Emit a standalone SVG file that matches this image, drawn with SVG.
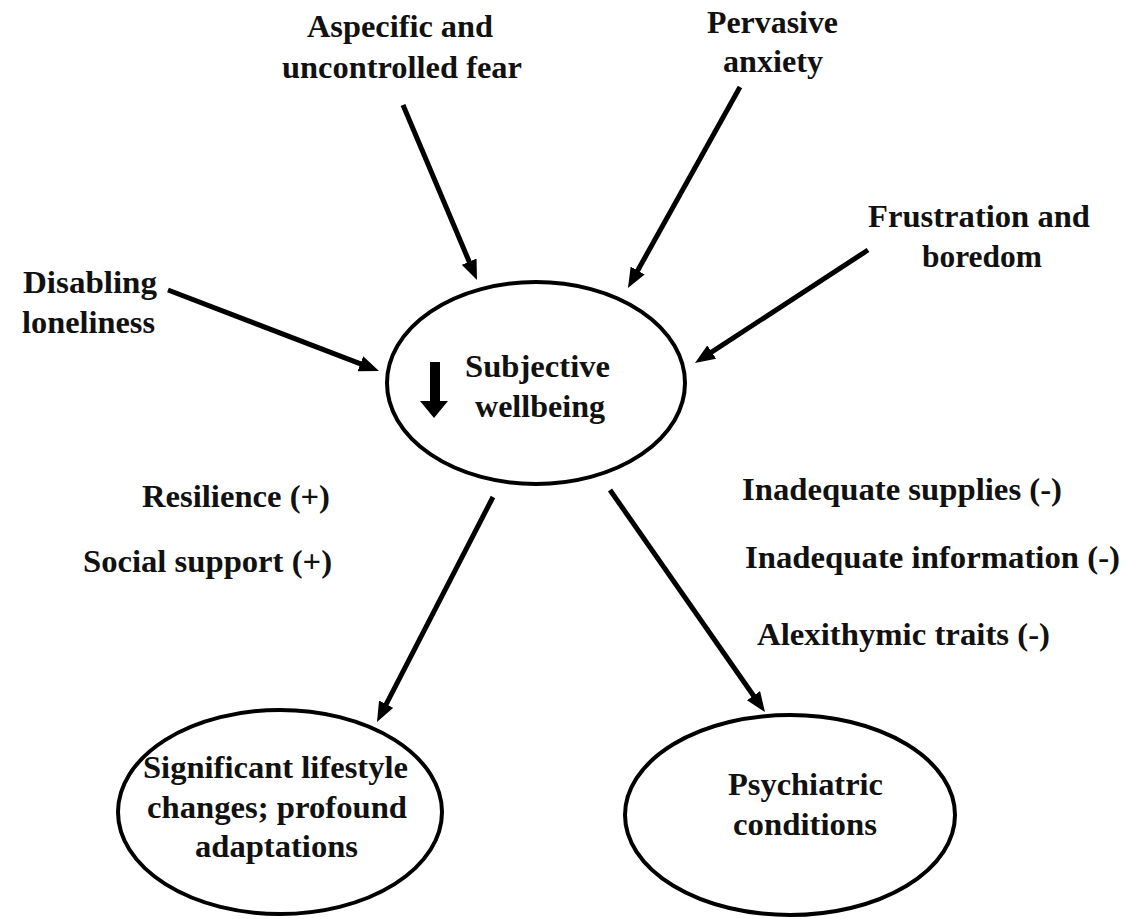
<svg xmlns="http://www.w3.org/2000/svg" width="1126" height="919" viewBox="0 0 1126 919">
<style>
.t{font-family:"Liberation Serif","Times New Roman",serif;font-weight:bold;font-size:31px;fill:#111}
.e{fill:#fff;stroke:#000;stroke-width:4}
.c{stroke:#000;stroke-width:5;fill:none;marker-end:url(#ah)}
</style>
<defs>
<marker id="ah" viewBox="0 0 20 16" refX="8" refY="8" markerWidth="20" markerHeight="16" markerUnits="userSpaceOnUse" orient="auto">
<path d="M0,0 L20,8 L0,16 z" fill="#000"/>
</marker>
</defs>
<rect width="1126" height="919" fill="#fff"/>
<g id="connectors">
<line class="c" x1="403" y1="105" x2="472.3" y2="269"/>
<line class="c" x1="740" y1="87" x2="633.8" y2="277.5"/>
<line class="c" x1="168" y1="290" x2="367.8" y2="366.7"/>
<line class="c" x1="868" y1="250" x2="705" y2="356.4"/>
<line class="c" x1="493" y1="497" x2="382.5" y2="711.3"/>
<line class="c" x1="610" y1="490" x2="758.1" y2="702.2"/>
</g>
<g id="node-wellbeing">
<ellipse class="e" cx="536" cy="383" rx="149" ry="101"/>
<rect x="430" y="362" width="10" height="40" fill="#000"/>
<path d="M420,401 L448,401 L434,418 z" fill="#000"/>
<text class="t" x="465" y="377" textLength="145" lengthAdjust="spacingAndGlyphs">Subjective</text>
<text class="t" x="475" y="417" textLength="130" lengthAdjust="spacingAndGlyphs">wellbeing</text>
</g>
<g id="node-lifestyle">
<ellipse class="e" cx="280" cy="812" rx="162" ry="102"/>
<text class="t" x="143" y="778" textLength="265" lengthAdjust="spacingAndGlyphs">Significant lifestyle</text>
<text class="t" x="147" y="818" textLength="260" lengthAdjust="spacingAndGlyphs">changes; profound</text>
<text class="t" x="195" y="857" textLength="163" lengthAdjust="spacingAndGlyphs">adaptations</text>
</g>
<g id="node-psychiatric">
<ellipse class="e" cx="790" cy="815" rx="165" ry="100"/>
<text class="t" x="728" y="795" textLength="155" lengthAdjust="spacingAndGlyphs">Psychiatric</text>
<text class="t" x="733" y="835" textLength="144" lengthAdjust="spacingAndGlyphs">conditions</text>
</g>
<g id="node-fear">
<text class="t" x="307" y="37" textLength="186" lengthAdjust="spacingAndGlyphs">Aspecific and</text>
<text class="t" x="282" y="78" textLength="240" lengthAdjust="spacingAndGlyphs">uncontrolled fear</text>
</g>
<g id="node-anxiety">
<text class="t" x="707" y="33" textLength="131" lengthAdjust="spacingAndGlyphs">Pervasive</text>
<text class="t" x="723" y="72" textLength="100" lengthAdjust="spacingAndGlyphs">anxiety</text>
</g>
<g id="node-frustration">
<text class="t" x="868" y="227" textLength="222" lengthAdjust="spacingAndGlyphs">Frustration and</text>
<text class="t" x="922" y="267" textLength="120" lengthAdjust="spacingAndGlyphs">boredom</text>
</g>
<g id="node-loneliness">
<text class="t" x="23" y="293" textLength="134" lengthAdjust="spacingAndGlyphs">Disabling</text>
<text class="t" x="22" y="333" textLength="133" lengthAdjust="spacingAndGlyphs">loneliness</text>
</g>
<g id="node-protective">
<text class="t" x="142" y="507" textLength="188" lengthAdjust="spacingAndGlyphs">Resilience (+)</text>
<text class="t" x="83" y="572" textLength="249" lengthAdjust="spacingAndGlyphs">Social support (+)</text>
</g>
<g id="node-risk">
<text class="t" x="742" y="500" textLength="320" lengthAdjust="spacingAndGlyphs">Inadequate supplies (-)</text>
<text class="t" x="745" y="568" textLength="375" lengthAdjust="spacingAndGlyphs">Inadequate information (-)</text>
<text class="t" x="757" y="645" textLength="293" lengthAdjust="spacingAndGlyphs">Alexithymic traits (-)</text>
</g>
</svg>
